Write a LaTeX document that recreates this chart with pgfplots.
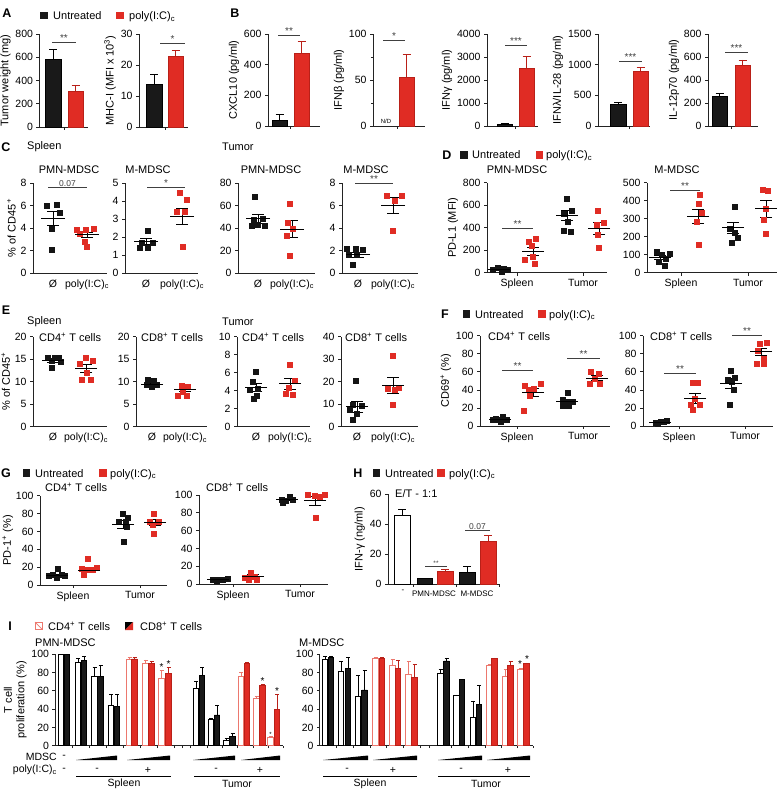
\documentclass[border=0pt]{standalone}
\usepackage{fontspec}
\setmainfont{Liberation Sans}
\usepackage{pgfplots}
\pgfplotsset{compat=1.18}
\definecolor{myred}{RGB}{224,44,36}
\definecolor{dred}{RGB}{185,32,24}
\definecolor{pinkr}{RGB}{236,120,110}
\definecolor{axc}{RGB}{35,35,35}
\tikzset{
 tt/.style={font=\fontsize{11}{13}\selectfont, inner sep=0pt},
 ts/.style={font=\fontsize{10.5}{12}\selectfont, inner sep=0pt},
 pl/.style={font=\bfseries\fontsize{12.5}{14}\selectfont, inner sep=0pt},
 st/.style={font=\fontsize{10}{10}\selectfont, inner sep=0.6pt},
 sig/.style={line width=0.7pt, black!75},
}
\pgfplotsset{
 gp/.style={scale only axis, anchor=south west, axis x line*=bottom, axis y line*=left,
  axis line style={line width=0.75pt, axc, -},
  tick align=outside, major tick length=3pt, minor tick length=2pt,
  every tick/.style={line width=0.75pt, axc},
  tick label style={font=\fontsize{10.5}{12}\selectfont},
  label style={font=\fontsize{11}{12.5}\selectfont},
  ylabel shift=-2pt,
  ymin=0, clip=false, scaled y ticks=false,
  /pgf/number format/assume math mode=true,
  /pgf/number format/1000 sep={}},
 nox/.style={xtick style={draw=none}},
 pb/.style={only marks, mark=square*, mark size=2.5pt, color=black!92},
 pr/.style={only marks, mark=square*, mark size=2.5pt, color=myred},
 ms/.style={only marks, mark=-, mark size=#1pt, mark options={line width=1pt, black}, black, forget plot,
   error bars/.cd, y dir=both, y explicit, error bar style={line width=1pt, black},
   error mark options={rotate=90, mark size=6pt, line width=1pt, black}},
 ms/.default=11,
 gbar/.style n args={4}{ybar, bar shift=0pt, bar width=#1, fill=#2, draw=#3, line width=0.6pt,
   error bars/.cd, y dir=plus, y explicit, error bar style={line width=0.7pt, #3},
   error mark options={rotate=90, mark size=#4, line width=0.7pt, #3}},
}
\newcommand{\mylegend}[5]{%
 \node[fill=black!90, minimum size=7.5pt, inner sep=0pt] at (#1pt,-#5pt) {};
 \node[tt, anchor=base west] at (#2pt,-#5pt-4pt) {Untreated};
 \node[fill=myred, minimum size=7.5pt, inner sep=0pt] at (#3pt,-#5pt) {};
 \node[tt, anchor=base west] at (#4pt,-#5pt-4pt) {poly(I:C)\textsubscript{c}};}
\begin{document}
\begin{tikzpicture}
\path[use as bounding box] (0pt,0pt) rectangle (778pt,-791pt);

% ---------------- A
\node[pl] at (7pt,-13pt) {A};
\mylegend{44}{53}{120}{129}{15.5}
\begin{axis}[gp, at={(39.5pt,-127pt)}, width=48.5pt, height=93pt, xmin=39.5, xmax=88, ymax=800, ytick={0,200,400,600,800}, xtick={64}, xticklabels={}, ylabel={Tumor weight (mg)}]
\addplot[gbar={16}{black!90}{black}{4pt}] coordinates {(53,580) +- (0,85)};
\addplot[gbar={15}{myred}{dred}{4pt}] coordinates {(75.5,305) +- (0,50)};
\draw[sig] (axis cs:52,725) -- (axis cs:76,725) node[midway, above, st] {**};
\end{axis}
\begin{axis}[gp, at={(139pt,-127pt)}, width=49pt, height=93pt, xmin=139, xmax=188, ymax=30, ytick={0,10,20,30}, xtick={165}, xticklabels={}, ylabel={MHC-I (MFI x 10\textsuperscript{3})}]
\addplot[gbar={16}{black!90}{black}{4pt}] coordinates {(154,13.7) +- (0,3.3)};
\addplot[gbar={15}{myred}{dred}{4pt}] coordinates {(175.5,22.7) +- (0,1.9)};
\draw[sig] (axis cs:160,27) -- (axis cs:185,27) node[midway, above, st] {*};
\end{axis}

% ---------------- B
\node[pl] at (235pt,-13pt) {B};
\begin{axis}[gp, at={(268pt,-126pt)}, width=52pt, height=92pt, xmin=268, xmax=320, ymax=600, ytick={0,200,400,600}, xtick={290.5}, xticklabels={}, ylabel={CXCL10 (pg/ml)}]
\addplot[gbar={15}{black!90}{black}{4pt}] coordinates {(279.5,35) +- (0,38)};
\addplot[gbar={15}{myred}{dred}{4pt}] coordinates {(301.5,471) +- (0,82)};
\draw[sig] (axis cs:278,593) -- (axis cs:300,593) node[midway, above, st] {**};
\end{axis}
\begin{axis}[gp, at={(373pt,-126pt)}, width=52pt, height=92pt, xmin=373, xmax=425, ymax=100, ytick={0,50,100}, minor ytick={25,75}, xtick={397}, xticklabels={}, ylabel={IFNβ (pg/ml)}]
\addplot[gbar={15}{myred}{dred}{4pt}] coordinates {(406.5,52.8) +- (0,25)};
\node[font=\fontsize{6}{6}\selectfont] at (axis cs:386,5) {N/D};
\draw[sig] (axis cs:383,92.6) -- (axis cs:405,92.6) node[midway, above, st] {*};
\end{axis}
\begin{axis}[gp, at={(487pt,-126pt)}, width=51pt, height=92pt, xmin=487, xmax=538, ymax=4000, ytick={0,1000,2000,3000,4000}, xtick={515.5}, xticklabels={}, ylabel={IFNγ (pg/ml)}]
\addplot[gbar={15}{black!90}{black}{4pt}] coordinates {(504.5,73) +- (0,43)};
\addplot[gbar={15}{myred}{dred}{4pt}] coordinates {(526.5,2516) +- (0,509)};
\draw[sig] (axis cs:505,3491) -- (axis cs:527,3491) node[midway, above, st] {***};
\end{axis}
\begin{axis}[gp, at={(598pt,-126pt)}, width=52pt, height=92pt, xmin=598, xmax=650, ymax=1500, ytick={0,500,1000,1500}, xtick={629.5}, xticklabels={}, ylabel={IFNλ/IL-28 (pg/ml)}]
\addplot[gbar={16}{black!90}{black}{4pt}] coordinates {(618,355) +- (0,27)};
\addplot[gbar={15}{myred}{dred}{4pt}] coordinates {(640.5,884) +- (0,71)};
\draw[sig] (axis cs:619,1047) -- (axis cs:642,1047) node[midway, above, st] {***};
\end{axis}
\begin{axis}[gp, at={(708pt,-126pt)}, width=50pt, height=92pt, xmin=708, xmax=758, ymax=800, ytick={0,200,400,600,800}, xtick={731}, xticklabels={}, ylabel={IL-12p70 (pg/ml)}]
\addplot[gbar={15}{black!90}{black}{4pt}] coordinates {(719.5,255) +- (0,29)};
\addplot[gbar={15}{myred}{dred}{4pt}] coordinates {(742.5,530) +- (0,44)};
\draw[sig] (axis cs:725,640) -- (axis cs:748,640) node[midway, above, st] {***};
\end{axis}

% ---------------- C
\node[pl] at (6pt,-147pt) {C};
\node[tt, anchor=west] at (27pt,-147pt) {Spleen};
\node[tt, anchor=west] at (222pt,-147pt) {Tumor};
\node[tt] at (69pt,-170pt) {PMN-MDSC};
\node[tt] at (148pt,-170pt) {M-MDSC};
\node[tt] at (271pt,-170pt) {PMN-MDSC};
\node[tt] at (366pt,-170pt) {M-MDSC};
\begin{axis}[gp, nox, at={(33pt,-273pt)}, width=74pt, height=90pt, xmin=33, xmax=107, ymax=8, ytick={0,2,4,6,8}, xtick={53,87}, xticklabels={Ø,poly(I:C)\textsubscript{c}}, ylabel={\% of CD45\textsuperscript{+}}]
\addplot[pb] coordinates {(47,6.0) (57,6.1) (60,5.4) (52,3.9) (52,2.1)};
\addplot[pr] coordinates {(77,3.85) (86,3.85) (94,3.9) (80,3.5) (85,2.8) (87,2.3)};
\addplot[ms=12] coordinates {(53,4.85) +- (0,0.65)};
\addplot[ms=12] coordinates {(87,3.38) +- (0,0.25)};
\draw[sig] (axis cs:48,7.6) -- (axis cs:87,7.6) node[midway, above, font=\fontsize{8.5}{9}\selectfont, inner sep=1pt] {0.07};
\end{axis}
\begin{axis}[gp, nox, at={(125pt,-273pt)}, width=73pt, height=90pt, xmin=125, xmax=198, ymax=5, ytick={0,1,2,3,4,5}, xtick={146,182}, xticklabels={Ø,poly(I:C)\textsubscript{c}}]
\addplot[pb] coordinates {(148,2.35) (142,1.67) (153,1.67) (140,1.39) (148,1.39)};
\addplot[pr] coordinates {(180,4.44) (187,4.1) (177,3.4) (185,3.4) (183,1.44)};
\addplot[ms=12] coordinates {(146,1.75) +- (0,0.15)};
\addplot[ms=12] coordinates {(182,3.16) +- (0,0.45)};
\draw[sig] (axis cs:147,4.76) -- (axis cs:185,4.76) node[midway, above, st] {*};
\end{axis}
\begin{axis}[gp, nox, at={(238pt,-273pt)}, width=77pt, height=90pt, xmin=238, xmax=315, ymax=80, ytick={0,20,40,60,80}, xtick={258,292}, xticklabels={Ø,poly(I:C)\textsubscript{c}}]
\addplot[pb] coordinates {(255,68) (254,47) (263,48) (258,43) (252,42) (265,42)};
\addplot[pr] coordinates {(290,62) (288,45) (293,39) (287,33) (290,15)};
\addplot[ms=12] coordinates {(258,48) +- (0,4)};
\addplot[ms=12] coordinates {(292,39) +- (0,7.6)};
\end{axis}
\begin{axis}[gp, nox, at={(342pt,-273pt)}, width=76pt, height=90pt, xmin=342, xmax=418, ymax=8, ytick={0,2,4,6,8}, xtick={358,393}, xticklabels={Ø,poly(I:C)\textsubscript{c}}]
\addplot[pb] coordinates {(347,2.13) (356,2.13) (363,2.07) (349,1.63) (357,1.63) (353,0.74)};
\addplot[pr] coordinates {(387,6.9) (402,6.9) (395,6.46) (393,3.8)};
\addplot[ms=12] coordinates {(358,1.6) +- (0,0.2)};
\addplot[ms=12] coordinates {(393,6.0) +- (0,0.75)};
\draw[sig] (axis cs:355,7.94) -- (axis cs:393,7.94) node[midway, above, st] {**};
\end{axis}

% ---------------- D
\node[pl] at (447pt,-155pt) {D};
\mylegend{464}{472}{539.5}{546}{155}
\node[tt] at (517pt,-170pt) {PMN-MDSC};
\node[tt] at (677pt,-170pt) {M-MDSC};
\begin{axis}[gp, at={(487pt,-272.7pt)}, width=120pt, height=90pt, xmin=487, xmax=607, ymax=800, ytick={0,200,400,600,800}, xtick={517,583}, xticklabels={Spleen,Tumor}, ylabel={PD-L1 (MFI)}]
\addplot[pb] coordinates {(493,24) (498,47) (504,38) (508,30) (502,9)};
\addplot[pr] coordinates {(536,300) (529,276) (532,237) (533,142) (525,118) (535,77)};
\addplot[pb] coordinates {(567,660) (572,548) (564,527) (568,453) (564,373) (571,367)};
\addplot[pr] coordinates {(598,548) (604,440) (597,430) (598,335) (599,219)};
\addplot[ms] coordinates {(499,28) +- (0,6)};
\addplot[ms] coordinates {(533,192) +- (0,36)};
\addplot[ms] coordinates {(567,505) +- (0,45)};
\addplot[ms] coordinates {(599,394) +- (0,55)};
\draw[sig] (axis cs:502,397) -- (axis cs:533,397) node[midway, above, st] {**};
\end{axis}
\begin{axis}[gp, at={(647pt,-272.7pt)}, width=130pt, height=90pt, xmin=647, xmax=777, ymax=500, ytick={0,100,200,300,400,500}, xtick={681,748}, xticklabels={Spleen,Tumor}]
\addplot[pb] coordinates {(657,117) (662,98) (670,107) (666,76) (659,61) (665,37)};
\addplot[pr] coordinates {(700,431) (699,381) (702,333) (697,283) (699,154)};
\addplot[pb] coordinates {(735,367) (730,246) (735,222) (738,196) (732,167)};
\addplot[pr] coordinates {(763,463) (768,454) (766,354) (764,293) (766,218)};
\addplot[ms] coordinates {(660,83) +- (0,12)};
\addplot[ms] coordinates {(698,312) +- (0,40)};
\addplot[ms] coordinates {(733,250) +- (0,30)};
\addplot[ms] coordinates {(766,356) +- (0,47)};
\draw[sig] (axis cs:670,455) -- (axis cs:700,455) node[midway, above, st] {**};
\end{axis}

% ---------------- E
\node[pl] at (6pt,-310pt) {E};
\node[tt, anchor=west] at (27pt,-322pt) {Spleen};
\node[tt, anchor=west] at (222pt,-322pt) {Tumor};
\node[tt, anchor=west] at (39pt,-337pt) {CD4\textsuperscript{+} T cells};
\node[tt, anchor=west] at (141pt,-337pt) {CD8\textsuperscript{+} T cells};
\node[tt, anchor=west] at (242pt,-337pt) {CD4\textsuperscript{+} T cells};
\node[tt, anchor=west] at (345pt,-337pt) {CD8\textsuperscript{+} T cells};
\begin{axis}[gp, nox, at={(33pt,-426.7pt)}, width=74pt, height=90pt, xmin=33, xmax=107, ymax=20, ytick={0,5,10,15,20}, xtick={53,86}, xticklabels={Ø,poly(I:C)\textsubscript{c}}, ylabel={\% of CD45\textsuperscript{+}}]
\addplot[pb] coordinates {(48,15.4) (55,15.3) (59,15.3) (52,14.7) (61,14.5) (52,13.1)};
\addplot[pr] coordinates {(86,15.3) (93,14.7) (80,13.9) (87,12.0) (82,10.4) (91,10.5)};
\addplot[ms] coordinates {(53,14.7) +- (0,0.35)};
\addplot[ms] coordinates {(86,12.9) +- (0,0.85)};
\end{axis}
\begin{axis}[gp, nox, at={(136pt,-426.7pt)}, width=71pt, height=90pt, xmin=136, xmax=207, ymax=20, ytick={0,5,10,15,20}, xtick={152,185}, xticklabels={Ø,poly(I:C)\textsubscript{c}}]
\addplot[pb] coordinates {(148,10.4) (154,10.3) (147,9.3) (157,9.4) (152,9.0)};
\addplot[pr] coordinates {(182,9.1) (188,9.0) (183,7.8) (178,7.0) (187,6.8) (183,8.1)};
\addplot[ms] coordinates {(152,9.4) +- (0,0.3)};
\addplot[ms] coordinates {(185,8.3) +- (0,0.4)};
\end{axis}
\begin{axis}[gp, nox, at={(237pt,-426.7pt)}, width=73pt, height=90pt, xmin=237, xmax=310, ymax=10, ytick={0,2,4,6,8,10}, xtick={256,290}, xticklabels={Ø,poly(I:C)\textsubscript{c}}]
\addplot[pb] coordinates {(256,6.1) (253,5.0) (258,4.2) (250,4.1) (257,3.5) (254,3.1)};
\addplot[pr] coordinates {(290,6.9) (295,5.1) (289,4.3) (286,3.7) (293,3.6)};
\addplot[ms] coordinates {(256,4.35) +- (0,0.45)};
\addplot[ms] coordinates {(290,4.75) +- (0,0.6)};
\end{axis}
\begin{axis}[gp, nox, at={(341pt,-426.7pt)}, width=77pt, height=90pt, xmin=341, xmax=418, ymax=40, ytick={0,10,20,30,40}, xtick={357,393}, xticklabels={Ø,poly(I:C)\textsubscript{c}}]
\addplot[pb] coordinates {(356,20.4) (353,9.6) (362,9.2) (350,7.4) (357,5.9) (353,3.0)};
\addplot[pr] coordinates {(393,31.4) (388,17.0) (399,17.3) (395,16.3) (393,9.6)};
\addplot[ms] coordinates {(357,8.8) +- (0,2.6)};
\addplot[ms] coordinates {(393,18.3) +- (0,3.5)};
\end{axis}

% ---------------- F
\node[pl] at (445pt,-314pt) {F};
\mylegend{466.5}{475}{542}{549}{314}
\node[tt, anchor=west] at (488pt,-336pt) {CD4\textsuperscript{+} T cells};
\node[tt, anchor=west] at (650pt,-336pt) {CD8\textsuperscript{+} T cells};
\begin{axis}[gp, at={(480pt,-426pt)}, width=130pt, height=90.3pt, xmin=480, xmax=610, ymax=100, ytick={0,20,40,60,80,100}, xtick={517,583}, xticklabels={Spleen,Tumor}, ylabel={CD69\textsuperscript{+} (\%)}]
\addplot[pb] coordinates {(503,10.3) (496,8.2) (498,6.6) (507,7.4) (501,4.8) (493,6.6)};
\addplot[pr] coordinates {(541,47) (525,44.6) (534,41.7) (529,39.9) (530,33.2) (524,17)};
\addplot[pb] coordinates {(568,36.9) (563,28.8) (567,27) (573,27) (569,22) (563,22)};
\addplot[pr] coordinates {(591,60) (599,58) (595,52.8) (590,47) (600,47)};
\addplot[ms] coordinates {(500,7) +- (0,0.9)};
\addplot[ms] coordinates {(533,37.2) +- (0,4.4)};
\addplot[ms] coordinates {(567,27.3) +- (0,2.2)};
\addplot[ms] coordinates {(597,53) +- (0,2.6)};
\draw[sig] (axis cs:502,62) -- (axis cs:533,62) node[midway, above, st] {**};
\draw[sig] (axis cs:567,74.5) -- (axis cs:600,74.5) node[midway, above, st] {**};
\end{axis}
\begin{axis}[gp, at={(643pt,-426pt)}, width=130pt, height=90.3pt, xmin=643, xmax=773, ymax=100, ytick={0,20,40,60,80,100}, xtick={679,745}, xticklabels={Spleen,Tumor}]
\addplot[pb] coordinates {(656,3.7) (661,4.4) (664,5) (667,6) (658,3.0)};
\addplot[pr] coordinates {(693,48) (698,48) (695,30) (691,24) (700,24) (693,17.6)};
\addplot[pb] coordinates {(731,61.5) (735,54) (728,51) (732,49) (734,40) (730,24)};
\addplot[pr] coordinates {(760,91) (767,92) (758,83) (764,75) (757,69) (764,69)};
\addplot[ms] coordinates {(660,4.4) +- (0,0.5)};
\addplot[ms] coordinates {(695,30) +- (0,5.5)};
\addplot[ms] coordinates {(731,47) +- (0,5.3)};
\addplot[ms] coordinates {(761,82) +- (0,4.2)};
\draw[sig] (axis cs:664,58.6) -- (axis cs:696,58.6) node[midway, above, st] {**};
\draw[sig] (axis cs:732,100) -- (axis cs:762,100) node[midway, above, st] {**};
\end{axis}

% ---------------- G
\node[pl] at (6pt,-473pt) {G};
\mylegend{26.5}{35}{103}{110}{473}
\node[tt, anchor=west] at (45pt,-487pt) {CD4\textsuperscript{+} T cells};
\node[tt, anchor=west] at (206pt,-487pt) {CD8\textsuperscript{+} T cells};
\begin{axis}[gp, at={(40pt,-585pt)}, width=127pt, height=89.3pt, xmin=40, xmax=167, ymax=100, ytick={0,20,40,60,80,100}, xtick={73,140}, xticklabels={Spleen,Tumor}, ylabel={PD-1\textsuperscript{+} (\%)}, ylabel shift=-4pt]
\addplot[pb] coordinates {(58,17.8) (53,11.5) (62,11.5) (49,10.4) (65,10.4) (57,7.8)};
\addplot[pr] coordinates {(88,30) (82,17.8) (87,17) (93,17) (97,19) (84,11.5)};
\addplot[pb] coordinates {(123,79.5) (128,75.8) (119,71) (126,71) (127,65) (124,48.7)};
\addplot[pr] coordinates {(154,79.5) (159,71) (150,71) (153,67) (154,57)};
\addplot[ms] coordinates {(57,11) +- (0,1.3)};
\addplot[ms] coordinates {(89,16.5) +- (0,2.8)};
\addplot[ms] coordinates {(123,68) +- (0,4.5)};
\addplot[ms] coordinates {(155,70) +- (0,3.7)};
\end{axis}
\begin{axis}[gp, at={(199pt,-584pt)}, width=129pt, height=89pt, xmin=199, xmax=328, ymax=100, ytick={0,20,40,60,80,100}, xtick={233,300}, xticklabels={Spleen,Tumor}]
\addplot[pb] coordinates {(213,4.5) (218,5.2) (223,5.2) (228,5.6) (217,3.7)};
\addplot[pr] coordinates {(251,12.7) (245,7.5) (255,8.2) (249,5.2) (257,5.2)};
\addplot[pb] coordinates {(282,95) (290,98) (286,93.6) (293,95) (283,91.8)};
\addplot[pr] coordinates {(308,100) (315,99) (325,100) (316,74) (320,98.5)};
\addplot[ms] coordinates {(218,4.8) +- (0,0.35)};
\addplot[ms] coordinates {(253,8.9) +- (0,1.4)};
\addplot[ms] coordinates {(287,94.5) +- (0,1)};
\addplot[ms] coordinates {(315,93.5) +- (0,5)};
\end{axis}

% ---------------- H
\node[pl] at (358pt,-473pt) {H};
\mylegend{376.5}{385}{441}{449}{473}
\node[tt, anchor=west] at (395pt,-494pt) {E/T - 1:1};
\begin{axis}[gp, nox, at={(388pt,-584pt)}, width=112pt, height=90pt, xmin=388, xmax=500, ymax=60, ytick={0,20,40,60}, xtick={403,434,477}, xticklabels={-,PMN-MDSC,M-MDSC}, xticklabel style={font=\fontsize{8}{9}\selectfont}, ylabel={IFN-γ (ng/ml)}]
\addplot[gbar={16}{white}{black}{4pt}] coordinates {(402,46) +- (0,3.8)};
\addplot[gbar={15}{black!90}{black}{4pt}] coordinates {(424.5,3.5) +- (0,0.5)};
\addplot[gbar={16}{myred}{dred}{4pt}] coordinates {(445,8.5) +- (0,1)};
\addplot[gbar={16}{black!90}{black}{4pt}] coordinates {(467,7.5) +- (0,4.5)};
\addplot[gbar={16}{myred}{dred}{4pt}] coordinates {(488,28.2) +- (0,4.3)};
\draw[axc, line width=0.75pt] (axis cs:413,0) -- ++(0pt,-3pt);
\draw[axc, line width=0.75pt] (axis cs:456.5,0) -- ++(0pt,-3pt);
\draw[axc, line width=0.75pt] (axis cs:499.5,0) -- ++(0pt,-3pt);
\draw[sig] (axis cs:425,12) -- (axis cs:447,12) node[midway, above, font=\fontsize{6.5}{6.5}\selectfont, inner sep=0.5pt] {**};
\draw[sig] (axis cs:465,35.5) -- (axis cs:490,35.5) node[midway, above, font=\fontsize{8.5}{9}\selectfont, inner sep=1pt] {0.07};
\end{axis}

% ---------------- I
\node[pl] at (10pt,-626pt) {I};
\fill[white] (35pt,-622pt) rectangle (42pt,-629pt);
\draw[pinkr, line width=0.7pt] (35pt,-622pt) rectangle (42pt,-629pt);
\draw[pinkr, line width=0.7pt] (35pt,-622pt) -- (42pt,-629pt);
\node[tt, anchor=base west] at (48pt,-630pt) {CD4\textsuperscript{+} T cells};
\fill[black] (125pt,-622pt) -- (133pt,-622pt) -- (125pt,-630pt) -- cycle;
\fill[myred] (133pt,-622pt) -- (133pt,-630pt) -- (125pt,-630pt) -- cycle;
\node[tt, anchor=base west] at (140pt,-630pt) {CD8\textsuperscript{+} T cells};
\node[tt, anchor=west] at (35pt,-643pt) {PMN-MDSC};
\node[tt, anchor=west] at (299pt,-643pt) {M-MDSC};
\begin{axis}[gp, at={(55pt,-745.7pt)}, width=228pt, height=91.4pt, xmin=55, xmax=283, ymax=100, ytick={0,20,40,60,80,100}, xtick={72,89,106,123,140,157,174,182.5,190,207,222,237,253,268,283}, xticklabels={}, major tick length=2.5pt, ylabel={T cell\\proliferation (\%)}, ylabel style={align=center}]
\addplot[gbar={5.5}{white}{black}{2pt}] coordinates {(61,100) +- (0,0) (78,91.2) +- (0,4.4) (94.5,75.5) +- (0,9.9) (111,43.8) +- (0,12.2) (196,62.8) +- (0,8) (211,28.8) +- (0,1.2) (226.5,5.5) +- (0,2.5)};
\addplot[gbar={5.5}{black!90}{black}{2pt}] coordinates {(67,100) +- (0,0) (84,93) +- (0,4.4) (100.5,75.5) +- (0,12.1) (117,43) +- (0,13) (202,76.6) +- (0,9.2) (217,33.6) +- (0,10.9) (232.5,10.6) +- (0,2.9)};
\addplot[gbar={5.5}{white}{pinkr}{2pt}] coordinates {(129.5,94.9) +- (0,1.5) (145.5,90) +- (0,3.8) (161.5,73.7) +- (0,9.1) (241,76.3) +- (0,3.7) (256.5,51.8) +- (0,1.8) (270.5,9.1) +- (0,1.5)};
\addplot[gbar={5.5}{myred}{dred}{2pt}] coordinates {(134.5,94.9) +- (0,1.5) (151.5,90) +- (0,2) (168.5,79) +- (0,6.8) (247,90) +- (0,1.2) (262.5,66.4) +- (0,0.8) (277,39.8) +- (0,16.4)};
\node[st] at (axis cs:161.5,86) {*};
\node[st] at (axis cs:168.5,89) {*};
\node[st] at (axis cs:262.5,71) {*};
\node[st] at (axis cs:277,60) {*};
\node[font=\fontsize{6}{6}\selectfont, inner sep=0pt] at (axis cs:270.5,12) {*};
\end{axis}
\begin{axis}[gp, at={(319.5pt,-745.7pt)}, width=213.5pt, height=91.4pt, xmin=319.5, xmax=533, ymax=100, ytick={0,20,40,60,80,100}, xtick={336.5,353,370,386.5,403,420,429.5,451,468,485,501.5,517,533}, xticklabels={}, major tick length=2.5pt]
\addplot[gbar={5.5}{white}{black}{2pt}] coordinates {(325,94.5) +- (0,2.9) (341,81) +- (0,11) (358,54.4) +- (0,22.2) (440.5,79) +- (0,4) (456.5,54.7) +- (0,0.8) (473,30.7) +- (0,18.3)};
\addplot[gbar={5.5}{black!90}{black}{2pt}] coordinates {(331,96.7) +- (0,1.5) (348,84.7) +- (0,12.3) (364.5,61) +- (0,21) (446.5,92.7) +- (0,3.3) (462,72.6) +- (0,0) (479,45.6) +- (0,20.4)};
\addplot[gbar={5.5}{white}{pinkr}{2pt}] coordinates {(375.5,95.6) +- (0,0.8) (392.5,88.3) +- (0,6.2) (408.5,78) +- (0,14) (489.5,88.3) +- (0,0.7) (505.5,75.5) +- (0,8.1) (520.5,84) +- (0,1)};
\addplot[gbar={5.5}{myred}{dred}{2pt}] coordinates {(382,95.6) +- (0,0.8) (398,84.7) +- (0,8.3) (414.5,74.5) +- (0,14.5) (494.5,95.6) +- (0,0.5) (510.5,88.3) +- (0,3.7) (526.5,90) +- (0,0.5)};
\node[st] at (axis cs:520,89) {*};
\node[st] at (axis cs:527,95) {*};
\end{axis}
% I annotations
\node[ts, anchor=east] at (57pt,-757pt) {MDSC};
\node[ts] at (64pt,-757pt) {-};
\node[ts, anchor=east] at (57pt,-770pt) {poly(I:C)\textsubscript{c}};
\node[ts] at (64pt,-770pt) {-};
\fill[black] (76pt,-760pt) -- (117pt,-760pt) -- (117pt,-755.5pt) -- cycle;
\fill[black] (127pt,-760pt) -- (170pt,-760pt) -- (170pt,-755.5pt) -- cycle;
\fill[black] (193pt,-760pt) -- (235pt,-760pt) -- (235pt,-755.5pt) -- cycle;
\fill[black] (241pt,-760pt) -- (280pt,-760pt) -- (280pt,-755.5pt) -- cycle;
\fill[black] (323pt,-760pt) -- (368pt,-760pt) -- (368pt,-755.5pt) -- cycle;
\fill[black] (373pt,-760pt) -- (417pt,-760pt) -- (417pt,-755.5pt) -- cycle;
\fill[black] (438pt,-760pt) -- (482pt,-760pt) -- (482pt,-755.5pt) -- cycle;
\fill[black] (487pt,-760pt) -- (530pt,-760pt) -- (530pt,-755.5pt) -- cycle;
\node[ts] at (97pt,-770pt) {-};
\node[ts] at (148pt,-770pt) {+};
\node[ts] at (216pt,-770pt) {-};
\node[ts] at (260pt,-770pt) {+};
\node[ts] at (347pt,-770pt) {-};
\node[ts] at (393pt,-770pt) {+};
\node[ts] at (461pt,-770pt) {-};
\node[ts] at (508pt,-770pt) {+};
\draw[line width=0.7pt] (76pt,-776pt) -- (171pt,-776pt);
\draw[line width=0.7pt] (194pt,-776pt) -- (280pt,-776pt);
\draw[line width=0.7pt] (323pt,-776pt) -- (417pt,-776pt);
\draw[line width=0.7pt] (438pt,-776pt) -- (530pt,-776pt);
\node[ts] at (124pt,-784pt) {Spleen};
\node[ts] at (237pt,-784pt) {Tumor};
\node[ts] at (370pt,-784pt) {Spleen};
\node[ts] at (486pt,-784pt) {Tumor};
\end{tikzpicture}
\end{document}
